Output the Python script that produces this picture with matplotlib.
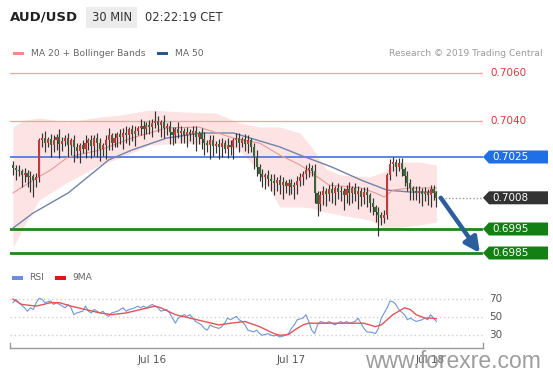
import matplotlib
matplotlib.use('Agg')
import matplotlib.pyplot as plt
from matplotlib.patches import Polygon, Rectangle
import numpy as np

plt.rcParams['font.family'] = ['DejaVu Sans']

W, H = 553, 375

# ---------------- data ----------------
first_open = 0.70215
closes = [
    0.70205, 0.70195, 0.70190, 0.70175, 0.70185, 0.70165, 0.70170, 0.70155, 0.70165,
    0.70320,
    0.70330, 0.70310, 0.70325, 0.70300, 0.70320, 0.70335, 0.70305, 0.70315, 0.70330, 0.70300, 0.70320,
    0.70290, 0.70275, 0.70300, 0.70285, 0.70310,
    0.70320, 0.70295, 0.70330, 0.70310, 0.70285, 0.70300, 0.70320, 0.70340, 0.70310, 0.70330, 0.70345, 0.70335,
    0.70350, 0.70340, 0.70365, 0.70345, 0.70360,
    0.70370, 0.70380, 0.70365, 0.70385, 0.70375, 0.70390, 0.70400,
    0.70385, 0.70395, 0.70370, 0.70380, 0.70355, 0.70340,
    0.70365, 0.70350, 0.70360, 0.70340, 0.70355, 0.70345, 0.70360, 0.70335, 0.70350,
    0.70325, 0.70310, 0.70300, 0.70320, 0.70295, 0.70305, 0.70290, 0.70310, 0.70285, 0.70300, 0.70290,
    0.70320, 0.70330, 0.70310, 0.70325, 0.70305, 0.70320, 0.70290,
    0.70250, 0.70210, 0.70180, 0.70165,
    0.70175, 0.70160, 0.70150, 0.70140, 0.70155, 0.70135, 0.70145, 0.70130, 0.70140, 0.70125, 0.70135,
    0.70150, 0.70165, 0.70180, 0.70195, 0.70205, 0.70190,
    0.70100, 0.70055,
    0.70090, 0.70110, 0.70095, 0.70115, 0.70100, 0.70120, 0.70105,
    0.70110, 0.70090, 0.70115, 0.70100, 0.70120, 0.70095, 0.70110, 0.70085, 0.70105, 0.70090,
    0.70060, 0.70040, 0.70020, 0.70010, 0.69995, 0.70010,
    0.70175, 0.70220,
    0.70230, 0.70210, 0.70225, 0.70200,
    0.70170, 0.70140, 0.70120, 0.70110,
    0.70100, 0.70110, 0.70095, 0.70105, 0.70090, 0.70115, 0.70100, 0.70080,
]
# wick lengths in pips beyond the body
up_wick = [
    2, 1, 2, 1, 2, 1, 2, 1, 2, 1,
    2, 3, 1, 2, 2, 1, 3, 2, 1, 2,
    1, 2, 2, 1, 2, 3, 1, 2, 1, 2,
    2, 1, 2, 3, 1, 2, 1, 2, 2, 3,
    1, 2, 2, 1, 3, 2, 1, 2, 2, 4,
    2, 1, 3, 1, 2, 2, 1, 3, 2, 1,
    2, 1, 2, 2, 1, 2, 3, 1, 2, 2,
    1, 2, 2, 1, 3, 2, 1, 2, 2, 1,
    2, 2, 1, 2, 3, 1, 2, 1, 2, 2,
    3, 1, 2, 2, 1, 2, 2, 1, 2, 2,
    1, 2, 2, 1, 3, 1, 2, 2, 1, 2,
    3, 1, 2, 2, 1, 2, 3, 1, 2, 2,
    1, 2, 2, 1, 2, 1, 2, 1, 2, 1,
    2, 2, 1, 2, 2, 1, 2, 2, 1, 2,
    2, 1, 2, 1, 2, 2, 1,
]
dn_wick = [
    3, 4, 2, 5, 3, 4, 6, 7, 3, 2,
    3, 4, 2, 5, 3, 4, 6, 3, 2, 5,
    4, 6, 3, 5, 2, 4, 3, 5, 4, 6,
    5, 3, 6, 4, 3, 2, 4, 3, 5, 3,
    4, 3, 5, 2, 3, 4, 2, 3, 4, 2,
    3, 5, 4, 3, 5, 4, 3, 2, 4, 3,
    5, 3, 4, 6, 3, 4, 5, 3, 6, 4,
    3, 5, 4, 2, 4, 3, 5, 3, 4, 2,
    3, 4, 2, 5, 4, 3, 4, 5, 3, 4,
    5, 3, 4, 6, 3, 4, 3, 5, 4, 2,
    3, 2, 3, 2, 4, 5, 3, 4, 5, 3,
    4, 5, 3, 4, 6, 3, 5, 4, 3, 6,
    4, 3, 5, 4, 3, 4, 9, 3, 2, 2,
    2, 3, 4, 2, 3, 4, 3, 5, 4, 3,
    4, 5, 3, 4, 5, 3, 4,
]

ma50_idx = [0, 7, 19, 30, 33, 41, 53, 65, 76, 84, 92, 99, 110, 120, 129, 137, 146]
ma50_val = [0.69954, 0.70017, 0.70100, 0.70208, 0.70238, 0.70279, 0.70329, 0.70350, 0.70350,
            0.70321, 0.70292, 0.70258, 0.70208, 0.70154, 0.70112, 0.70104, 0.70104]

ma20_idx = [0, 7, 13, 19, 30, 41, 53, 64, 76, 85, 92, 99, 104, 109, 120, 125, 128, 131, 137, 146]
ma20_val = [0.70100, 0.70154, 0.70196, 0.70250, 0.70279, 0.70329, 0.70371, 0.70375, 0.70329,
            0.70308, 0.70258, 0.70217, 0.70175, 0.70133, 0.70121, 0.70100, 0.70083, 0.70112,
            0.70121, 0.70121]

bb_idx = [0, 4, 9, 19, 30, 37, 47, 58, 70, 78, 85, 92, 99, 103, 108, 113, 123, 128, 132, 140, 146]
bb_upper = [0.70375, 0.70404, 0.70413, 0.70396, 0.70417, 0.70425, 0.70446, 0.70438, 0.70433,
            0.70392, 0.70375, 0.70375, 0.70350, 0.70290, 0.70200, 0.70175, 0.70167, 0.70188,
            0.70229, 0.70229, 0.70217]
bb_lower = [0.69875, 0.69967, 0.70071, 0.70146, 0.70217, 0.70246, 0.70300, 0.70308, 0.70300,
            0.70279, 0.70190, 0.70042, 0.70042, 0.70038, 0.70020, 0.70008, 0.69988, 0.69954,
            0.69954, 0.69967, 0.69979]

rsi_idx = [0, 1, 2, 4, 5, 6, 7, 8, 9, 10, 11, 13, 14, 15, 16, 18, 19, 20, 21, 22, 24, 25, 26, 27,
           28, 30, 31, 32, 33, 34, 36, 37, 38, 39, 40, 42, 43, 44, 45, 46, 48, 49, 50, 51, 53, 54,
           55, 56, 57, 59, 60, 61, 62, 63, 65, 66, 67, 68, 69, 71, 72, 73, 74, 75, 77, 78, 79, 80,
           81, 83, 84, 85, 86, 88, 89, 90, 91, 92, 94, 95, 96, 97, 98, 100, 101, 102, 103, 104,
           105, 106, 108, 109, 110, 111, 113, 114, 115, 116, 118, 119, 120, 121, 122, 124, 125,
           126, 127, 129, 130, 131, 132, 133, 135, 136, 137, 138, 139, 141, 142, 143, 144, 146]
rsi_val = [65.9, 69.7, 65.9, 60.2, 56.4, 60.2, 58.3, 65.9, 70.8, 69.7, 65.9, 67.8, 64.0, 65.9,
           64.0, 60.2, 64.0, 60.2, 52.6, 54.5, 56.4, 62.1, 56.4, 54.5, 58.3, 54.5, 56.4, 52.6,
           50.7, 54.5, 56.4, 58.3, 60.2, 56.4, 58.3, 60.2, 62.1, 60.2, 62.1, 60.2, 64.0, 62.1,
           60.2, 56.4, 58.3, 54.5, 48.8, 43.1, 48.8, 52.6, 50.7, 52.6, 48.8, 45.0, 41.2, 37.3,
           35.4, 41.2, 39.3, 37.3, 39.3, 43.1, 48.8, 46.9, 50.7, 46.9, 45.0, 41.2, 35.4, 33.5,
           35.4, 31.6, 29.7, 31.6, 29.7, 29.0, 29.7, 27.8, 29.7, 31.6, 37.3, 41.2, 46.9, 48.8,
           52.6, 45.0, 35.4, 31.6, 41.2, 45.0, 43.1, 45.0, 43.1, 41.2, 45.0, 43.1, 45.0, 43.1,
           45.0, 48.8, 43.1, 37.3, 33.5, 32.8, 31.6, 37.3, 48.8, 60.2, 67.8, 67.0, 64.0, 58.3,
           52.6, 46.9, 48.8, 46.9, 45.0, 46.9, 48.8, 46.9, 52.6, 45.0]

rsi9_idx = [0, 3, 8, 13, 16, 20, 25, 30, 34, 39, 44, 49, 51, 56, 61, 66, 71, 75, 80, 85, 90, 92,
            95, 97, 100, 102, 107, 112, 116, 121, 125, 127, 131, 135, 137, 139, 142, 144, 146]
rsi9_val = [69.7, 64.0, 62.1, 65.9, 65.9, 62.1, 58.3, 54.5, 52.6, 54.5, 58.3, 62.1, 60.2, 52.6,
            48.8, 45.0, 41.2, 43.1, 45.0, 39.3, 31.6, 29.7, 30.5, 35.4, 41.2, 43.1, 43.1, 43.1,
            43.1, 43.1, 39.3, 41.2, 52.6, 60.2, 58.3, 52.6, 48.8, 48.8, 48.0]

levels = [0.7060, 0.7040, 0.7025, 0.7008, 0.6995, 0.6985]
level_labels = ['0.7060', '0.7040', '0.7025', '0.7008', '0.6995', '0.6985']
level_kinds = ['res', 'res', 'pivot', 'last', 'sup', 'sup']
target_level = 0.6985

date_ticks = [48, 96, 144]
date_labels = ['Jul 16', 'Jul 17', 'Jul 18']
rsi_levels = [70, 50, 30]

# ---------------- figure ----------------
def fx(x):
    return x / W

def fy(y):
    return 1 - y / H

fig = plt.figure(figsize=(W / 100, H / 100), dpi=100)
fig.patch.set_facecolor('white')

# main price axes: px 10..483 horizontally, 62..262 vertically
ax = fig.add_axes([fx(10), fy(262), (483 - 10) / W, (262 - 62) / H])
ax.set_xlim((10 - 13) / 2.9, (483 - 13) / 2.9)
ax.set_ylim(0.7040 - 141 / 24000, 0.7040 + 59 / 24000)
ax.axis('off')

n = len(closes)
idx = np.arange(n)
c = np.array(closes)
o = np.concatenate([[first_open], c[:-1]])
hi = np.maximum(o, c) + np.array(up_wick) * 0.0001
lo = np.minimum(o, c) - np.array(dn_wick) * 0.0001

# bollinger band
ax.fill_between(bb_idx, bb_lower, bb_upper, color='#fde3e3', lw=0, zorder=1)

# level lines
lvl_style = {
    'res': dict(color='#f0a3a3', lw=0.9),
    'pivot': dict(color='#5a84e6', lw=1.4),
    'sup': dict(color='#1d861d', lw=2.0),
}
for lv, kind in zip(levels, level_kinds):
    if kind == 'last':
        ax.plot([n - 1 + 0.5, ax.get_xlim()[1]], [lv, lv], color='#9a9a9a', lw=1.0,
                ls=(0, (1, 1.5)), zorder=2)
    else:
        ax.axhline(lv, zorder=2, **lvl_style[kind])

# moving averages
ax.plot(ma50_idx, ma50_val, color='#7283a8', lw=1.0, zorder=3)
ax.plot(ma20_idx, ma20_val, color='#e69a9a', lw=0.8, zorder=3)

# candles
up = c >= o
body_col = np.where(up, '#c4383a', '#3a663a')
ax.vlines(idx, lo, hi, color='#333333', lw=0.85, zorder=4)
body_h = np.maximum(np.abs(c - o), 0.00002)
ax.bar(idx, body_h, bottom=np.minimum(o, c), width=0.75, color=body_col, lw=0, zorder=5)

# right labels
ytr = ax.get_yaxis_transform()
label_style = {
    'res': None,
    'pivot': '#1f6fe6',
    'last': '#333333',
    'sup': '#138013',
}
half = 6.5 / 24000
for lv, lab, kind in zip(levels, level_labels, level_kinds):
    col = label_style[kind]
    if col is None:
        ax.text(1 + 7 / 473, lv, lab, transform=ytr, color='#d8383e', fontsize=7.5,
                va='center', ha='left', clip_on=False)
    else:
        x0 = 1.0
        x1 = 1 + 6 / 473
        x2 = 1 + 65 / 473
        poly = Polygon([[x0, lv], [x1, lv + half], [x2, lv + half], [x2, lv - half],
                        [x1, lv - half]], closed=True, transform=ytr, facecolor=col,
                       edgecolor='none', clip_on=False, zorder=6)
        ax.add_patch(poly)
        ax.text(1 + 9 / 473, lv, lab, transform=ytr, color='white', fontsize=7.5,
                va='center', ha='left', clip_on=False, zorder=7)

# projection arrow
ax.annotate('', xy=(161, target_level), xytext=(n + 0.5, closes[-1]),
            arrowprops=dict(arrowstyle='-|>,head_length=0.9,head_width=0.45', lw=3.2,
                            color='#2c5d9c', shrinkA=0, shrinkB=0), zorder=8,
            annotation_clip=False)

# ---------------- RSI panel ----------------
ax2 = fig.add_axes([fx(10), fy(348), (483 - 10) / W, (348 - 285) / H])
ax2.set_xlim((10 - 13) / 2.9, (483 - 13) / 2.9)
ax2.set_ylim(30 - 13 / 0.9, 70 + 14 / 0.9)
for s in ['top', 'right', 'left']:
    ax2.spines[s].set_visible(False)
ax2.spines['bottom'].set_color('#9a9a9a')
ax2.spines['bottom'].set_linewidth(1.0)
for lv in rsi_levels:
    ax2.axhline(lv, color='#cfcfcf', lw=1.0, ls=(0, (1, 2)))
    ax2.text(1 + 6 / 473, lv, str(lv), transform=ax2.get_yaxis_transform(), fontsize=7.5,
             color='#555555', va='center', ha='left')
ax2.plot(rsi_idx, rsi_val, color='#7096dc', lw=0.8)
ax2.plot(rsi9_idx, rsi9_val, color='#e0555a', lw=1.0)
ax2.set_yticks([])
ax2.set_xticks(date_ticks)
ax2.set_xticklabels(date_labels)
ax2.tick_params(axis='x', length=0, pad=5, labelsize=7.5, labelcolor='#555555')
for xe in (0, 1):
    ax2.plot([xe, xe], [0, 0.08], transform=ax2.transAxes, color='#9a9a9a', lw=1.0,
             clip_on=False)

# ---------------- header & legends ----------------
fig.patches.append(Rectangle((fx(86), fy(28)), (137 - 86) / W, (28 - 7) / H,
                             transform=fig.transFigure, facecolor='#ececec', edgecolor='none'))
fig.text(fx(10), fy(17.5), 'AUD/USD', fontsize=9.5, fontweight='bold', color='#222222',
         va='center', ha='left')
fig.text(fx(92), fy(17.5), '30 MIN', fontsize=8.3, color='#333333', va='center', ha='left')
fig.text(fx(145), fy(17.5), '02:22:19 CET', fontsize=8.3, color='#333333', va='center',
         ha='left')

fig.patches.append(Rectangle((fx(13), fy(55)), 11 / W, 3.5 / H, transform=fig.transFigure,
                             facecolor='#f28b8b', edgecolor='none'))
fig.text(fx(31), fy(53.5), 'MA 20 + Bollinger Bands', fontsize=6.6, color='#666666',
         va='center', ha='left')
fig.patches.append(Rectangle((fx(157), fy(55)), 11 / W, 3.5 / H, transform=fig.transFigure,
                             facecolor='#2c5590', edgecolor='none'))
fig.text(fx(175), fy(53.5), 'MA 50', fontsize=6.6, color='#666666', va='center', ha='left')
fig.text(fx(543), fy(54), 'Research \u00a9 2019 Trading Central', fontsize=6.6,
         color='#9a9a9a', va='center', ha='right')

fig.patches.append(Rectangle((fx(12), fy(279.5)), 11 / W, 3.5 / H, transform=fig.transFigure,
                             facecolor='#6a8fd8', edgecolor='none'))
fig.text(fx(29), fy(278), 'RSI', fontsize=6.6, color='#666666', va='center', ha='left')
fig.patches.append(Rectangle((fx(55), fy(279.5)), 11 / W, 3.5 / H, transform=fig.transFigure,
                             facecolor='#e01515', edgecolor='none'))
fig.text(fx(72), fy(278), '9MA', fontsize=6.6, color='#666666', va='center', ha='left')

fig.text(fx(541), fy(362), 'www.forexre.com', fontsize=16.5, color='#8c8c8c', alpha=0.85,
         va='center', ha='right', family=['Liberation Sans', 'DejaVu Sans'])

fig.savefig('out.png', dpi=100, facecolor='white')
